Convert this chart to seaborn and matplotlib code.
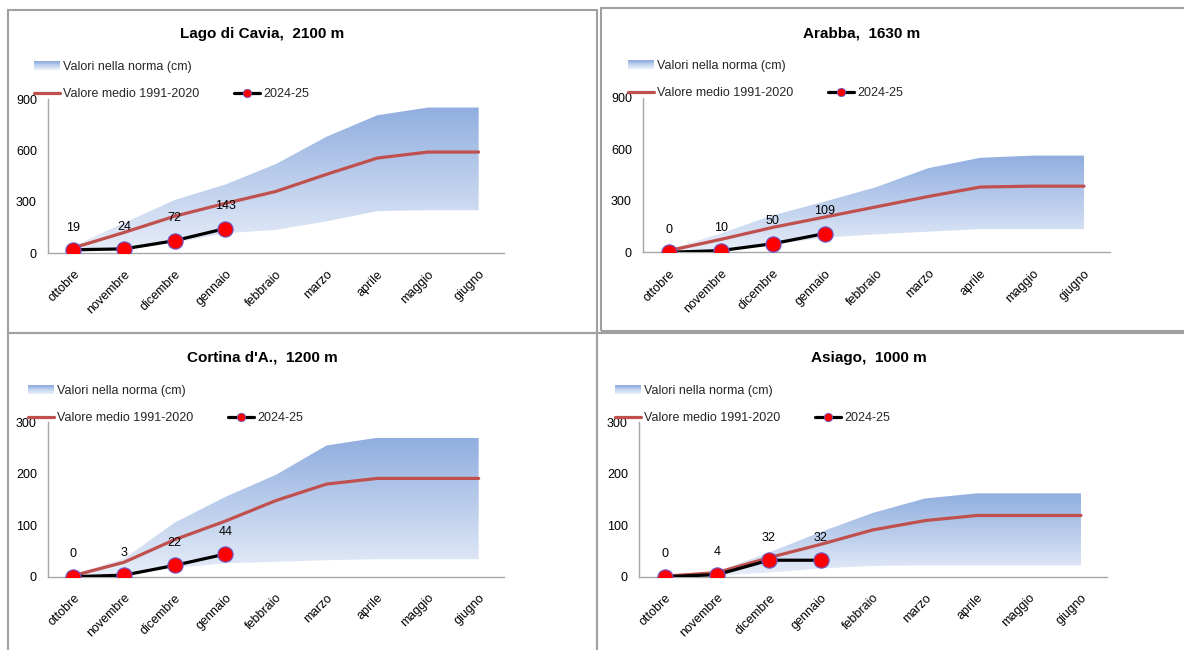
import numpy as np
import matplotlib
matplotlib.use("Agg")
import matplotlib.pyplot as plt
import seaborn as sns
from matplotlib.colors import LinearSegmentedColormap, to_rgb
from matplotlib.legend_handler import HandlerBase
from matplotlib.lines import Line2D
from matplotlib.patches import Rectangle

sns.set_theme(style="white")
plt.rcParams["font.family"] = ["Liberation Sans", "DejaVu Sans"]

# ---- data -------------------------------------------------------------
months = ["ottobre", "novembre", "dicembre", "gennaio", "febbraio",
          "marzo", "aprile", "maggio", "giugno"]

cavia_low = [5, 20, 60, 115, 135, 185, 245, 250, 250]
cavia_high = [40, 175, 310, 400, 520, 680, 805, 850, 850]
cavia_mean = [30, 120, 215, 290, 360, 460, 555, 590, 590]
cavia_2425 = [19, 24, 72, 143]

arabba_low = [0, 15, 45, 85, 105, 120, 135, 135, 135]
arabba_high = [15, 110, 215, 295, 380, 490, 550, 563, 563]
arabba_mean = [10, 75, 145, 205, 265, 325, 380, 385, 385]
arabba_2425 = [0, 10, 50, 109]

cortina_low = [0, 3, 17, 26, 29, 32, 34, 34, 34]
cortina_high = [5, 35, 105, 155, 198, 255, 270, 270, 270]
cortina_mean = [2, 28, 72, 108, 148, 180, 191, 191, 191]
cortina_2425 = [0, 3, 22, 44]

asiago_low = [0, 2, 8, 16, 21, 22, 22, 22, 22]
asiago_high = [0, 10, 47, 87, 124, 152, 162, 162, 162]
asiago_mean = [1, 8, 37, 63, 91, 109, 119, 119, 119]
asiago_2425 = [0, 4, 32, 32]

titles = ["Lago di Cavia,  2100 m", "Arabba,  1630 m",
          "Cortina d'A.,  1200 m", "Asiago,  1000 m"]
y_ticks_top = [0, 300, 600, 900]
y_ticks_bottom = [0, 100, 200, 300]

label_band = "Valori nella norma (cm)"
label_mean = "Valore medio 1991-2020"
label_season = "2024-25"

# ---- style ------------------------------------------------------------
W, H = 1184, 650
BAND_TOP = "#90AEDF"
BAND_BOTTOM = "#E8EEF9"
MEAN_RED = "#C0504D"
AXIS_GRAY = "#A6A6A6"
FRAME_GRAY = "#A0A0A0"
FS = 9


def fx(px):
    return px / W


def fy(py):
    return 1 - py / H


class GradientHandler(HandlerBase):
    """Legend swatch filled with the same vertical gradient as the band."""
    def create_artists(self, legend, orig_handle, xdescent, ydescent,
                       width, height, fontsize, trans):
        n = 10
        top = np.array(to_rgb(BAND_TOP))
        bot = np.array(to_rgb(BAND_BOTTOM))
        arts = []
        for k in range(n):
            c = top + (bot - top) * k / (n - 1)
            y0 = -ydescent + height * (n - 1 - k) / n
            arts.append(Rectangle((-xdescent, y0), width, height / n + 0.2,
                                  facecolor=c, edgecolor="none", transform=trans))
        return arts


band_cmap = LinearSegmentedColormap.from_list("band", [BAND_BOTTOM, BAND_TOP])

fig = plt.figure(figsize=(W / 100, H / 100), dpi=100)

# panel frames
frames = [(8, 9.5, 596.5, 332.5), (600.5, 8, 1190, 331),
          (7.5, 332.5, 596.5, 660), (596.5, 332.5, 1190, 660)]
for x0, y0, x1, y1 in frames:
    fig.add_artist(Rectangle((fx(x0), fy(y1)), fx(x1) - fx(x0), fy(y0) - fy(y1),
                             transform=fig.transFigure, fill=False,
                             edgecolor=FRAME_GRAY, linewidth=1.5))

panels = [
    dict(rect=(48, 99, 504, 253), data=(cavia_low, cavia_high, cavia_mean, cavia_2425),
         ticks=y_ticks_top, title_xy=(262, 34), leg_xy=(34, 61)),
    dict(rect=(643, 97.7, 1110, 252.3), data=(arabba_low, arabba_high, arabba_mean, arabba_2425),
         ticks=y_ticks_top, title_xy=(862, 33), leg_xy=(628, 60)),
    dict(rect=(48, 422.3, 504, 576.7), data=(cortina_low, cortina_high, cortina_mean, cortina_2425),
         ticks=y_ticks_bottom, title_xy=(262, 357), leg_xy=(28, 385)),
    dict(rect=(639, 422.3, 1107, 576.7), data=(asiago_low, asiago_high, asiago_mean, asiago_2425),
         ticks=y_ticks_bottom, title_xy=(869, 358), leg_xy=(615, 385)),
]

pos = np.arange(len(months))

for p, title in zip(panels, titles):
    x0, y0, x1, y1 = p["rect"]
    ax = fig.add_axes([fx(x0), fy(y1), fx(x1) - fx(x0), fy(y0) - fy(y1)])
    low, high, mean, season = p["data"]
    ymax = p["ticks"][-1]

    # normal range band with vertical gradient
    poly = ax.fill_between(pos, low, high, facecolor="none", edgecolor="none")
    grad = np.linspace(1, 0, 256).reshape(-1, 1)
    im = ax.imshow(grad, aspect="auto", cmap=band_cmap, origin="upper",
                   extent=(pos[0], pos[-1], 0, max(high)), zorder=1,
                   interpolation="bilinear")
    im.set_clip_path(poly.get_paths()[0], transform=ax.transData)

    # 1991-2020 mean
    sns.lineplot(x=pos, y=mean, ax=ax, color=MEAN_RED, linewidth=2.3,
                 zorder=3, legend=False)
    # current season
    sx = pos[:len(season)]
    sns.lineplot(x=sx, y=season, ax=ax, color="black", linewidth=2.3,
                 marker="o", markersize=11, markerfacecolor="#FF0000",
                 markeredgecolor="#6A5ACD", markeredgewidth=0.8,
                 zorder=4, legend=False)
    for xi, v in zip(sx, season):
        ax.annotate(str(v), (xi, v), xytext=(0, 16), textcoords="offset points",
                    ha="center", va="center", fontsize=FS, color="black", zorder=5)

    ax.set_xlim(-0.5, len(months) - 0.5)
    ax.set_ylim(0, ymax)
    ax.set_yticks(p["ticks"])
    ax.set_xticks(pos)
    ax.set_xticklabels(months, rotation=45, ha="right", rotation_mode="anchor")
    ax.tick_params(axis="both", length=0, labelsize=FS, colors="black")
    ax.tick_params(axis="y", pad=8)
    ax.tick_params(axis="x", pad=11)
    ax.set_facecolor("none")
    for s in ["top", "right"]:
        ax.spines[s].set_visible(False)
    for s in ["left", "bottom"]:
        ax.spines[s].set_color(AXIS_GRAY)
        ax.spines[s].set_linewidth(1.0)
    ax.set_xlabel("")
    ax.set_ylabel("")

    fig.text(fx(p["title_xy"][0]), fy(p["title_xy"][1]), title, ha="center",
             va="center", fontsize=11, fontweight="bold", color="black")

    h_band = Rectangle((0, 0), 1, 1)
    h_mean = Line2D([], [], color=MEAN_RED, linewidth=2.3)
    h_blank = Line2D([], [], alpha=0)
    h_season = Line2D([], [], color="black", linewidth=2.3, marker="o",
                      markersize=6, markerfacecolor="#FF0000",
                      markeredgecolor="#6A5ACD", markeredgewidth=0.6)
    lx, ly = p["leg_xy"]
    ax.legend([h_band, h_mean, h_blank, h_season],
              [label_band, label_mean, "", label_season],
              ncol=2, loc="upper left",
              bbox_to_anchor=(fx(lx), fy(ly)), bbox_transform=fig.transFigure,
              frameon=False, fontsize=FS, borderpad=0, borderaxespad=0,
              handlelength=2.1, handletextpad=0.25, labelspacing=1.2,
              columnspacing=2.75, numpoints=1,
              handler_map={Rectangle: GradientHandler()})

fig.savefig("out.png", dpi=100, facecolor="white")
